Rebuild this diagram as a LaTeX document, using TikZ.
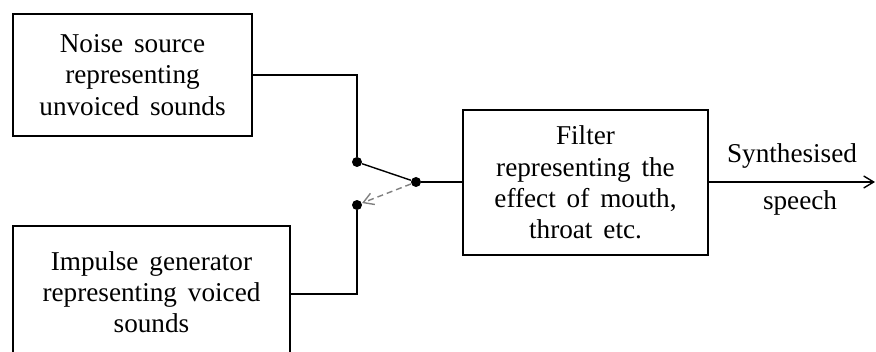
\documentclass[tikz,border=0pt]{standalone}
\usepackage{fontspec}
\setmainfont{Liberation Serif}[WordSpace=1.6]
\usetikzlibrary{arrows.meta}
\tikzset{
  blockbox/.style={draw, line width=1.3pt, align=center, inner sep=0pt,
    font=\fontsize{13.6}{15.6}\selectfont},
  wire/.style={line width=0.7pt},
  dotpt/.style={circle, fill, inner sep=0pt, minimum size=5pt},
  lbl/.style={font=\fontsize{13.6}{15.6}\selectfont, inner sep=0pt}
}
\begin{document}
\begin{tikzpicture}[x=0.5pt,y=-0.5pt]
\useasboundingbox (0,0) rectangle (876,352);
\clip (0,0) rectangle (876,352);
\node[blockbox, minimum width=119.5pt, minimum height=61pt] (noise) at (132.5,75)
  {Noise source\\representing\\unvoiced sounds};
\node[blockbox, minimum width=138.5pt, minimum height=66pt] (imp) at (151.5,292)
  {Impulse generator\\representing voiced\\sounds};
\node[blockbox, minimum width=122.5pt, minimum height=72.5pt] (filt) at (585.5,182.5)
  {Filter\\representing the\\effect of mouth,\\throat etc.};
\node[dotpt] (up) at (357,162) {};
\node[dotpt] (lo) at (357,205) {};
\node[dotpt] (piv) at (416,182) {};
\coordinate (out) at (875,182);
\draw[wire] (noise.east) -- (noise.east -| up) -- (up);
\draw[wire] (imp.east |- 0,294) -- (357,294) -- (lo);
\draw[wire] (up) -- (piv);
\draw[wire, gray, densely dashed, -{Straight Barb[length=5pt,width=6pt]}] (piv) -- (lo);
\draw[wire] (piv) -- (filt.west |- piv);
\draw[wire, -{Straight Barb[length=5pt,width=6pt]}] (filt.east |- out) -- (out);
\node[lbl] (syn) at (792,156) {Synthesised};
\node[lbl] (sp) at (800,203) {speech};
\end{tikzpicture}
\end{document}
